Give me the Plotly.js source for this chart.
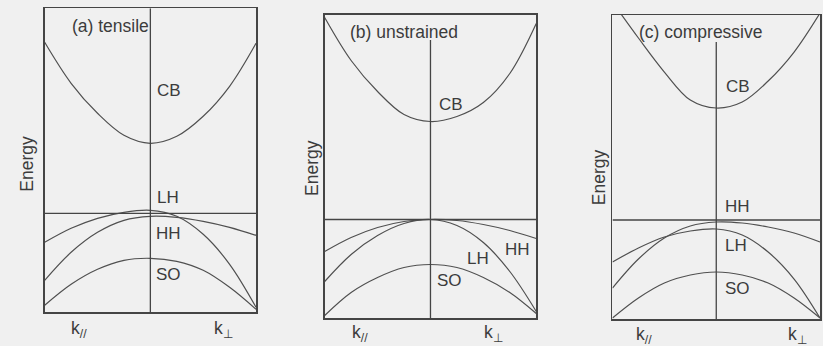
<!DOCTYPE html>
<html>
<head>
<meta charset="utf-8">
<script src="https://cdn.plot.ly/plotly-3.0.1.min.js"></script>
<style>
  html, body { margin: 0; padding: 0; background: #f0f0f0; }
  #chart { width: 823px; height: 346px; }
</style>
</head>
<body>
<div id="chart"></div>
<script>
// Wave-vector samples: k// to the left of Γ (negative), k⊥ to the right (positive)
const K = [-1, -0.75, -0.5, -0.25, 0, 0.25, 0.5, 0.75, 1];

// (a) tensile strain — energies relative to the unstrained valence-band edge
const CB_a = [1.71, 1.30, 1.00, 0.78, 0.70, 0.77, 0.97, 1.27, 1.70];
const LH_a = [-0.29, -0.15, -0.05, 0.01, 0.03, -0.03, -0.21, -0.51, -0.94];
const HH_a = [-0.67, -0.39, -0.19, -0.07, -0.03, -0.04, -0.08, -0.14, -0.22];
const SO_a = [-0.92, -0.71, -0.56, -0.47, -0.45, -0.48, -0.57, -0.74, -0.96];

// (b) unstrained
const CB_b = [2.02, 1.59, 1.28, 1.05, 0.98, 1.03, 1.17, 1.46, 1.96];
const HH_b = [-0.32, -0.18, -0.08, -0.02, 0.00, -0.01, -0.05, -0.11, -0.19];
const LH_b = [-0.62, -0.35, -0.16, -0.04, 0.00, -0.06, -0.23, -0.52, -0.92];
const SO_b = [-0.96, -0.73, -0.58, -0.48, -0.45, -0.48, -0.58, -0.73, -0.94];

// (c) compressive strain
const CB_c = [2.18, 1.82, 1.48, 1.20, 1.12, 1.18, 1.39, 1.68, 2.07];
const HH_c = [-0.68, -0.39, -0.18, -0.06, -0.02, -0.03, -0.07, -0.13, -0.22];
const LH_c = [-0.42, -0.28, -0.17, -0.11, -0.09, -0.15, -0.32, -0.59, -0.98];
const SO_c = [-0.98, -0.78, -0.63, -0.55, -0.52, -0.55, -0.63, -0.78, -0.98];

const panelTitles = ['(a) tensile', '(b) unstrained', '(c) compressive'];
const energyLabel = 'Energy';
const kParLabel = 'k<sub>//</sub>';
const kPerpLabel = 'k<sub>\u22a5</sub>';

const INK = '#3c3c3c';
const CURVE = '#505050';
const BG = '#f0f0f0';
const FONT = 'Liberation Sans, Arial, Helvetica, sans-serif';

const panels = [
  { bands: { CB: CB_a, LH: LH_a, HH: HH_a, SO: SO_a }, xa: 'x', ya: 'y',
    xdom: [0.0543, 0.3111], ydom: [0.0974, 0.976], lineTop: null,
    labels: { CB: [0.04, 1.23], LH: [0.04, 0.16], HH: [0.03, -0.20], SO: [0.03, -0.61] },
    title: [-0.763, 1.878],
    energy: [0.0324, 0.526], kpar: [0.096, 0.049], kperp: [0.271, 0.049] },
  { bands: { CB: CB_b, HH: HH_b, LH: LH_b, SO: SO_b }, xa: 'x2', ya: 'y2',
    xdom: [0.3945, 0.6516], ydom: [0.0795, 0.958], lineTop: 1.795,
    labels: { CB: [0.06, 1.155], HH: [0.685, -0.295], LH: [0.323, -0.388], SO: [0.04, -0.605] },
    title: [-0.78, 1.88],
    energy: [0.3797, 0.516], kpar: [0.4374, 0.0347], kperp: [0.6002, 0.0347] },
  { bands: { CB: CB_c, HH: HH_c, LH: LH_c, SO: SO_c }, xa: 'x3', ya: 'y3',
    xdom: [0.7442, 0.9964], ydom: [0.078, 0.9566], lineTop: 1.78,
    labels: { CB: [0.078, 1.333], HH: [0.068, 0.133], LH: [0.068, -0.25], SO: [0.068, -0.683] },
    title: [-0.767, 1.885],
    energy: [0.727, 0.489], kpar: [0.7819, 0.0303], kperp: [0.969, 0.0303] }
];

const Y_RANGE = [-0.99, 2.05];
const X_RANGE = [-1, 1];

const traces = [];
const shapes = [];
const annotations = [];
const layout = {
  width: 823, height: 346,
  margin: { l: 0, r: 0, t: 0, b: 0 },
  paper_bgcolor: BG, plot_bgcolor: BG,
  showlegend: false,
  font: { family: FONT, color: INK, size: 17 }
};

panels.forEach((p, i) => {
  const n = i === 0 ? '' : String(i + 1);
  const axStyle = {
    showgrid: false, zeroline: false, showticklabels: false, ticks: '',
    showline: true, mirror: true, linecolor: '#454545', linewidth: 1.5,
    fixedrange: true
  };
  layout['xaxis' + n] = Object.assign({}, axStyle, { domain: p.xdom, range: X_RANGE, anchor: 'y' + n });
  layout['yaxis' + n] = Object.assign({}, axStyle, { domain: p.ydom, range: Y_RANGE, anchor: 'x' + n });

  Object.keys(p.bands).forEach(name => {
    traces.push({
      x: K, y: p.bands[name], xaxis: p.xa, yaxis: p.ya,
      type: 'scatter', mode: 'lines', name: name,
      line: { color: CURVE, width: 1.2, shape: 'spline', smoothing: 1 },
      hoverinfo: 'skip'
    });
    const pos = p.labels[name];
    annotations.push({
      xref: p.xa, yref: p.ya, x: pos[0], y: pos[1],
      xanchor: 'left', yanchor: 'middle', showarrow: false,
      text: name, font: { size: 17, color: INK, family: FONT }
    });
  });

  // Γ-point vertical line and unstrained valence-band edge
  shapes.push({
    type: 'line', xref: p.xa, yref: p.ya,
    x0: 0, x1: 0, y0: Y_RANGE[0], y1: p.lineTop === null ? Y_RANGE[1] : p.lineTop,
    line: { color: '#454545', width: 1.3 }
  });
  shapes.push({
    type: 'line', xref: p.xa, yref: p.ya,
    x0: X_RANGE[0], x1: X_RANGE[1], y0: 0, y1: 0,
    line: { color: '#454545', width: 1.3 }
  });

  annotations.push({
    xref: p.xa, yref: p.ya, x: p.title[0], y: p.title[1],
    xanchor: 'left', yanchor: 'middle', showarrow: false,
    text: panelTitles[i], font: { size: 17.5, color: INK, family: FONT }
  });
  annotations.push({
    xref: 'paper', yref: 'paper', x: p.energy[0], y: p.energy[1],
    xanchor: 'center', yanchor: 'middle', showarrow: false, textangle: -90,
    text: energyLabel, font: { size: 17.5, color: INK, family: FONT }
  });
  annotations.push({
    xref: 'paper', yref: 'paper', x: p.kpar[0], y: p.kpar[1],
    xanchor: 'center', yanchor: 'middle', showarrow: false,
    text: kParLabel, font: { size: 17.5, color: INK, family: FONT }
  });
  annotations.push({
    xref: 'paper', yref: 'paper', x: p.kperp[0], y: p.kperp[1],
    xanchor: 'center', yanchor: 'middle', showarrow: false,
    text: kPerpLabel, font: { size: 17.5, color: INK, family: FONT }
  });
});

layout.shapes = shapes;
layout.annotations = annotations;

Plotly.newPlot('chart', traces, layout, { staticPlot: true, displayModeBar: false });
</script>
</body>
</html>
